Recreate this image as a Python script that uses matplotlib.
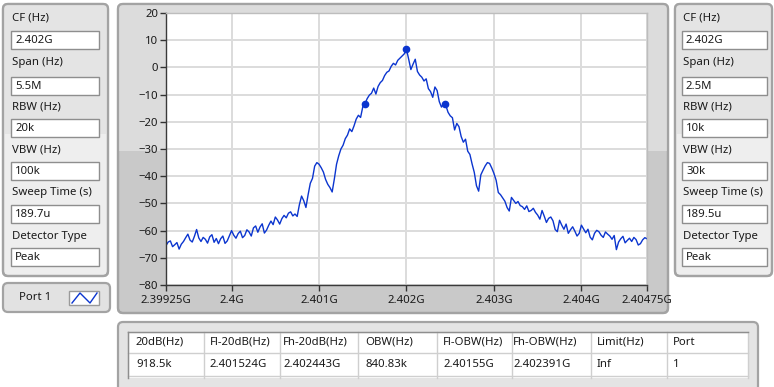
import matplotlib.pyplot as plt
import numpy as np
from matplotlib.patches import FancyBboxPatch, Rectangle

plt.rcParams['font.family'] = ['Noto Sans', 'DejaVu Sans']

# spectrum trace in dBm, one value every 25 kHz starting at 2.39925 GHz
f_start = 2.39925e9
f_step = 25e3
level = [
    -65.5, -64.2, -63.8, -65.9, -65.2, -64.4, -66.8, -65.0, -64.0, -62.6,
    -61.3, -63.5, -64.2, -62.1, -59.6, -62.7, -64.0, -62.5, -63.2, -64.6,
    -62.3, -61.5, -64.3, -62.9, -64.8, -63.0, -62.0, -64.7, -63.8, -61.9,
    -60.0, -61.7, -62.8, -61.1, -60.2, -62.6, -61.8, -59.7, -60.5, -62.0,
    -59.0, -58.3, -60.6, -58.7, -57.5, -60.9, -59.8, -58.0, -56.5, -57.8,
    -55.0, -56.1, -57.6, -55.6, -54.4, -55.3, -53.6, -53.1, -54.6, -53.9,
    -54.8, -50.5, -47.3, -49.0, -51.5, -46.8, -42.6, -40.8, -36.3, -35.0,
    -35.6, -36.9, -38.5, -41.2, -43.0, -44.2, -45.8, -41.0, -35.6, -32.5,
    -30.0, -28.6, -26.2, -24.9, -22.6, -23.6, -21.5, -19.0, -17.6, -18.4,
    -14.5, -13.4, -11.5, -10.2, -9.5, -7.6, -9.8, -7.0, -5.6, -4.8,
    -3.0, -1.8, -1.3, 0.4, 1.5, 0.9, 2.6, 3.4, 4.2, 5.0,
    6.6, 3.0, -0.8, 1.2, 3.0, -1.5, -2.8, -3.6, -5.0, -4.2,
    -7.8, -8.9, -11.0, -7.2, -8.5, -12.6, -14.6, -13.2, -14.0, -16.5,
    -17.8, -18.5, -23.0, -20.6, -21.8, -25.4, -27.5, -26.4, -30.8, -32.0,
    -35.5, -38.6, -43.5, -45.5, -39.5, -37.8, -36.2, -35.0, -35.3, -37.0,
    -39.0, -41.5, -46.0, -46.8, -48.0, -49.2, -51.5, -52.8, -47.8, -48.9,
    -50.0, -49.3, -50.8, -51.2, -52.2, -50.9, -53.0, -52.6, -51.8, -53.3,
    -54.3, -55.8, -52.6, -54.7, -57.0, -55.5, -55.0, -56.4, -59.6, -60.4,
    -56.2, -58.0, -59.5, -57.6, -61.0, -59.7, -58.6, -60.2, -62.0, -61.0,
    -58.0, -59.4, -60.8, -59.5, -62.4, -63.4, -61.0, -59.9, -60.4, -61.7,
    -62.5, -60.5, -61.3, -62.0, -63.2, -61.8, -67.0, -64.2, -63.0, -62.1,
    -64.5, -63.6, -62.8, -64.0, -62.5, -63.3, -65.3, -64.8, -63.4, -62.6,
    -63.0,
]
freq = f_start + f_step * np.arange(len(level))

# analyzer settings
setting_names = ["CF (Hz)", "Span (Hz)", "RBW (Hz)", "VBW (Hz)", "Sweep Time (s)", "Detector Type"]
left_values = ["2.402G", "5.5M", "20k", "100k", "189.7u", "Peak"]
right_values = ["2.402G", "2.5M", "10k", "30k", "189.5u", "Peak"]

# measurement results
headers = ["20dB(Hz)", "Fl-20dB(Hz)", "Fh-20dB(Hz)", "OBW(Hz)", "Fl-OBW(Hz)", "Fh-OBW(Hz)", "Limit(Hz)", "Port"]
results = ["918.5k", "2.401524G", "2.402443G", "840.83k", "2.40155G", "2.402391G", "Inf", "1"]
peak_freq = 2.402e9

xticks = [2.39925e9, 2.4e9, 2.401e9, 2.402e9, 2.403e9, 2.404e9, 2.40475e9]
xtick_labels = ["2.39925G", "2.4G", "2.401G", "2.402G", "2.403G", "2.404G", "2.40475G"]
yticks = [-80, -70, -60, -50, -40, -30, -20, -10, 0, 10, 20]


def si(s):
    return float(s[:-1]) * {"G": 1e9, "M": 1e6, "k": 1e3}[s[-1]]


W, H = 774, 387
fig = plt.figure(figsize=(W / 100, H / 100), dpi=100)
fig.patch.set_facecolor("white")

# pixel canvas for the panels
bg = fig.add_axes([0, 0, 1, 1])
bg.set_xlim(0, W)
bg.set_ylim(H, 0)
bg.axis("off")

TXT = "#1a1a1a"
FS = 8.2
BLUE = "#0b35cf"


def panel(x0, y0, x1, y1, fc, split=None, fc2=None, ec="#a3a3a3"):
    p = FancyBboxPatch((x0, y0), x1 - x0, y1 - y0, boxstyle="round,pad=0,rounding_size=5",
                       fc=fc, ec=ec, lw=1.6)
    bg.add_patch(p)
    if split is not None:
        r = Rectangle((x0, y0), x1 - x0, split - y0, fc=fc2, ec="none")
        bg.add_patch(r)
        r.set_clip_path(p)
        edge = FancyBboxPatch((x0, y0), x1 - x0, y1 - y0, boxstyle="round,pad=0,rounding_size=5",
                              fc="none", ec=ec, lw=1.6)
        bg.add_patch(edge)


def field(x0, x1, yc, text):
    bg.add_patch(Rectangle((x0, yc - 9), x1 - x0, 18, fc="white", ec="#8e8e8e", lw=1))
    bg.text(x0 + 4, yc + 0.5, text, fontsize=FS, color=TXT, va="center", ha="left")


label_y = [18, 63, 107, 150, 193, 237]
field_y = [40, 86, 128, 171, 214, 257]


def settings_panel(x0, x1, fx0, fx1, values):
    panel(x0, 4, x1, 276, "#eeeeee", split=134, fc2="#e4e4e4")
    for name, v, ly, fy in zip(setting_names, values, label_y, field_y):
        bg.text(fx0 + 1, ly, name, fontsize=FS, color=TXT, va="center", ha="left")
        field(fx0, fx1, fy, v)


settings_panel(3, 108, 11, 99, left_values)
settings_panel(675, 772, 682, 767, right_values)

# plot frame
panel(118, 4, 668, 313, "#c9c9c9", split=151, fc2="#dcdcdc")

# port legend button
panel(3, 283, 110, 312, "#e2e2e2")
bg.text(19, 298, "Port 1", fontsize=FS, color=TXT, va="center", ha="left")
bg.add_patch(Rectangle((69, 291), 30, 14, fc="white", ec="#9a9a9a", lw=1))
bg.plot([72, 80, 90, 97], [303, 293, 303, 293], color=BLUE, lw=1)

# results table
panel(118, 322, 758, 392, "#e4e4e4")
col_x = [128, 204, 280, 358, 437, 512, 591, 667, 748]
bg.add_patch(Rectangle((128, 332), 620, 46, fc="white", ec="none"))
for y in [332, 353, 376]:
    bg.plot([128, 748], [y, y], color="#cfcfcf", lw=1)
for x in col_x:
    bg.plot([x, x], [332, 378], color="#cfcfcf", lw=1)
bg.plot([128, 128], [332, 378], color="#8e8e8e", lw=1)
bg.plot([128, 748], [332, 332], color="#8e8e8e", lw=1)
text_x = [136, 210, 283, 365, 443, 513, 597, 673]
for tx, h, r in zip(text_x, headers, results):
    bg.text(tx, 342.5, h, fontsize=FS, color=TXT, va="center", ha="left")
    bg.text(tx, 364.5, r, fontsize=FS, color=TXT, va="center", ha="left")

# spectrum plot
ax = fig.add_axes([166 / W, 1 - 285 / H, (647 - 166) / W, (285 - 13) / H])
ax.set_facecolor("white")
ax.plot(freq, level, color=BLUE, lw=1.0)

peak = max(level)
mk_f = [si(results[1]), peak_freq, si(results[2])]
mk_l = [peak - 20, peak, peak - 20]
ax.plot(mk_f, mk_l, "o", color=BLUE, ms=4.5, mec=BLUE)

ax.set_xlim(xticks[0], xticks[-1])
ax.set_ylim(-80, 20)
ax.set_xticks(xticks)
ax.set_xticklabels(xtick_labels)
ax.set_yticks(yticks)
ax.grid(True, color="#dcdcdc", lw=1.4)
ax.set_axisbelow(True)
ax.tick_params(axis="both", direction="out", length=4, width=1, color="#333333",
               labelsize=FS, labelcolor=TXT, pad=1.5)
ax.tick_params(axis="x", pad=3)
for side in ["left", "bottom"]:
    ax.spines[side].set_color("#3a3a3a")
    ax.spines[side].set_linewidth(1)
for side in ["top", "right"]:
    ax.spines[side].set_color("#bdbdbd")
    ax.spines[side].set_linewidth(1)

fig.savefig("out.png", dpi=100)
